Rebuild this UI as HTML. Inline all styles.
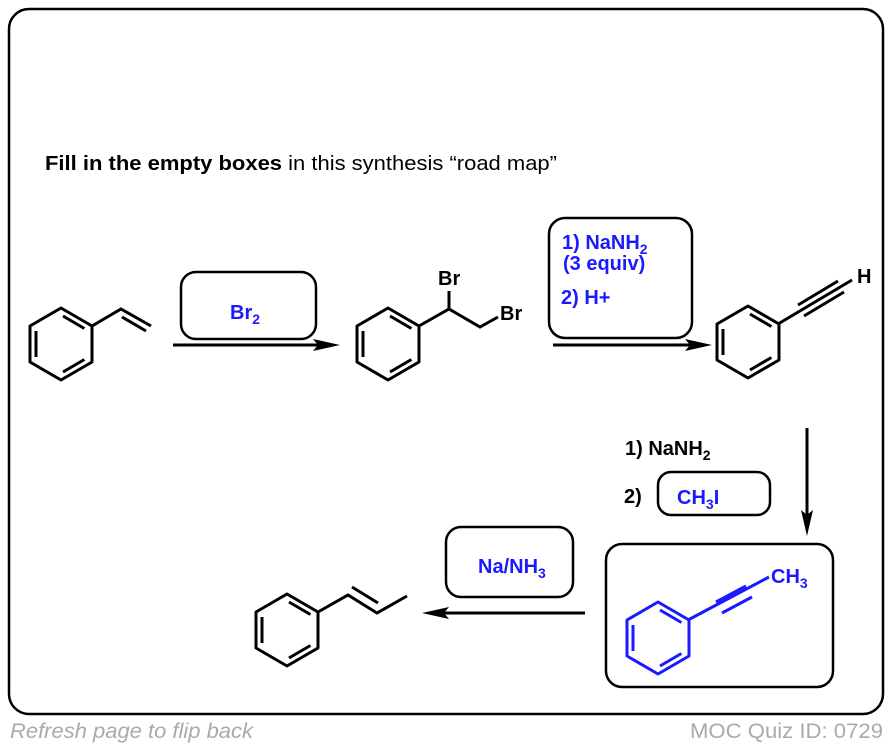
<!DOCTYPE html>
<html><head><meta charset="utf-8"><style>
html,body{margin:0;padding:0;background:#fff;}
svg{display:block;}
text{font-family:"Liberation Sans",Arial,sans-serif;}
</style></head><body>
<svg width="890" height="748" viewBox="0 0 890 748" xmlns="http://www.w3.org/2000/svg">
<defs>
<g id="ring" fill="none" stroke-width="3" stroke-linejoin="round">
<polygon points="0,-36 31,-18 31,18 0,36 -31,18 -31,-18"/>
<line x1="-25" y1="-13" x2="-25" y2="13"/>
<line x1="2" y1="-28" x2="23.4" y2="-15.5"/>
<line x1="23.4" y1="15.5" x2="2" y2="28"/>
</g>
</defs>
<rect x="9" y="9" width="874" height="705" rx="20" fill="#fff" stroke="#000" stroke-width="2.5"/>
<text x="45" y="170" font-size="20" textLength="512" lengthAdjust="spacingAndGlyphs"><tspan font-weight="bold">Fill in the empty boxes</tspan> in this synthesis “road map”</text>

<!-- styrene -->
<g stroke="#000"><use href="#ring" x="61" y="344"/></g>
<g stroke="#000" stroke-width="3" fill="none">
<polyline points="92,326 121,309 151,326"/>
<line x1="122" y1="317" x2="146" y2="331"/>
</g>

<!-- arrow 1 -->
<rect x="181" y="272" width="135" height="67" rx="15" fill="#fff" stroke="#000" stroke-width="2.5"/>
<text x="230" y="319" font-size="20" font-weight="bold" fill="#1a1aff">Br<tspan font-size="14" dy="5">2</tspan></text>
<line x1="173" y1="345" x2="322" y2="345" stroke="#000" stroke-width="3"/>
<polygon points="340,345 313,339 318,345 313,351" fill="#000"/>

<!-- dibromide -->
<g stroke="#000"><use href="#ring" x="388" y="344"/></g>
<g stroke="#000" stroke-width="3" fill="none">
<polyline points="419,326 449,309 480,327 498,317"/>
<line x1="449" y1="309" x2="449" y2="291"/>
</g>
<text x="438" y="285" font-size="20" font-weight="bold">Br</text>
<text x="500" y="320" font-size="20" font-weight="bold">Br</text>

<!-- arrow 2 -->
<rect x="549" y="218" width="143" height="120" rx="16" fill="#fff" stroke="#000" stroke-width="2.5"/>
<g font-size="20" font-weight="bold" fill="#1a1aff">
<text x="562" y="249">1) NaNH<tspan font-size="14" dy="5">2</tspan></text>
<text x="563" y="270">(3 equiv)</text>
<text x="561" y="304">2) H+</text>
</g>
<line x1="553" y1="345" x2="695" y2="345" stroke="#000" stroke-width="3"/>
<polygon points="712,345 685,339 690,345 685,351" fill="#000"/>

<!-- phenylacetylene -->
<g stroke="#000"><use href="#ring" x="748" y="342"/></g>
<g stroke="#000" stroke-width="3" fill="none">
<line x1="778" y1="324" x2="852" y2="280"/>
<line x1="804" y1="316" x2="844" y2="292"/>
<line x1="798" y1="305" x2="838" y2="281"/>
</g>
<text x="857" y="283" font-size="20" font-weight="bold">H</text>

<!-- down arrow -->
<line x1="807" y1="428" x2="807" y2="520" stroke="#000" stroke-width="3"/>
<polygon points="807,536 801,510 807,515 813,510" fill="#000"/>
<g font-size="20" font-weight="bold">
<text x="625" y="455">1) NaNH<tspan font-size="14" dy="5">2</tspan></text>
<text x="624" y="503">2)</text>
</g>
<rect x="658" y="472" width="112" height="43" rx="13" fill="#fff" stroke="#000" stroke-width="2.5"/>
<text x="677" y="504" font-size="20" font-weight="bold" fill="#1a1aff">CH<tspan font-size="14" dy="5">3</tspan><tspan dy="-5">I</tspan></text>

<!-- box3 -->
<rect x="606" y="544" width="227" height="143" rx="16" fill="#fff" stroke="#000" stroke-width="2.5"/>
<g stroke="#1a1aff"><use href="#ring" x="658" y="638"/></g>
<g stroke="#1a1aff" stroke-width="3" fill="none">
<line x1="688" y1="620" x2="769" y2="577"/>
<line x1="722" y1="613" x2="752" y2="597"/>
<line x1="716" y1="602" x2="746" y2="586"/>
</g>
<text x="771" y="583" font-size="20" font-weight="bold" fill="#1a1aff">CH<tspan font-size="14" dy="5">3</tspan></text>

<!-- Na/NH3 -->
<rect x="446" y="527" width="127" height="70" rx="15" fill="#fff" stroke="#000" stroke-width="2.5"/>
<text x="478" y="573" font-size="20" font-weight="bold" fill="#1a1aff">Na/NH<tspan font-size="14" dy="5">3</tspan></text>
<line x1="585" y1="613" x2="438" y2="613" stroke="#000" stroke-width="3"/>
<polygon points="422,613 449,607 444,613 449,619" fill="#000"/>

<!-- product -->
<g stroke="#000"><use href="#ring" x="287" y="630"/></g>
<g stroke="#000" stroke-width="3" fill="none">
<polyline points="318,612 348,595 377,613 407,596"/>
<line x1="352" y1="587" x2="378" y2="603"/>
</g>

<text x="10" y="738" font-size="21" font-style="italic" fill="#aaa" textLength="243" lengthAdjust="spacingAndGlyphs">Refresh page to flip back</text>
<text x="690" y="738" font-size="21" fill="#aaa" textLength="193" lengthAdjust="spacingAndGlyphs">MOC Quiz ID: 0729</text>
</svg>
</body></html>
